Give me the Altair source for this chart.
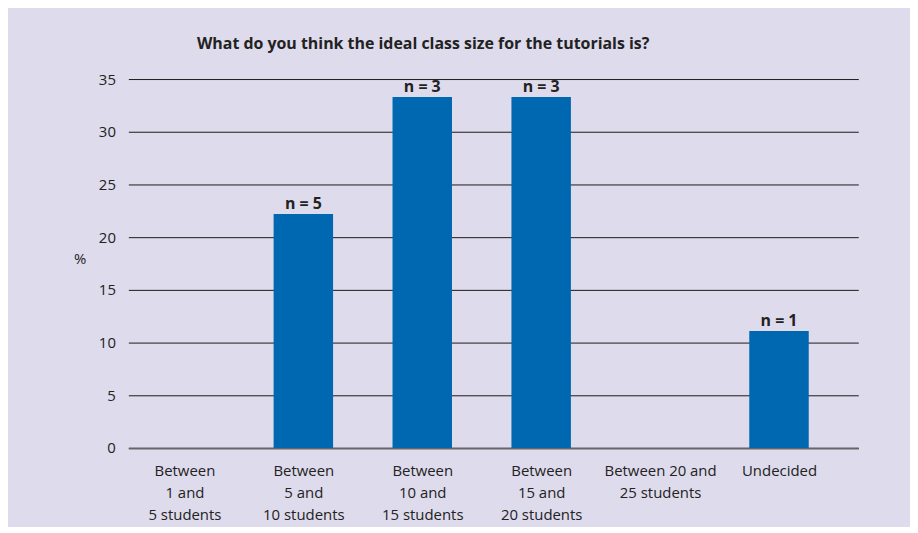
import altair as alt
import pandas as pd

categories = ["Between 1 and 5 students", "Between 5 and 10 students", "Between 10 and 15 students",
              "Between 15 and 20 students", "Between 20 and 25 students", "Undecided"]
label_lines = [["Between", "1 and", "5 students"], ["Between", "5 and", "10 students"],
               ["Between", "10 and", "15 students"], ["Between", "15 and", "20 students"],
               ["Between 20 and", "25 students"], ["Undecided"]]
percent = [0, 22.2, 33.3, 33.3, 0, 11.1]
n_labels = ["", "n = 5", "n = 3", "n = 3", "", "n = 1"]
y_ticks = [0, 5, 10, 15, 20, 25, 30, 35]

positions = list(range(len(categories)))
df = pd.DataFrame({"cat": categories, "pos": positions, "pct": percent, "n": n_labels})
df["left"] = df["pos"] - 0.25
df["right"] = df["pos"] + 0.25
df["base"] = 0
label_expr = "[" + ",".join(repr(l) for l in label_lines) + "][round(datum.value)]"

FONT = "Open Sans"
BG = "#dedbec"
BLUE = "#0067b1"

xscale = alt.Scale(domain=[-0.4717, 5.6667], nice=False, zero=False)
x = alt.X("left:Q", title=None, scale=xscale,
          axis=alt.Axis(values=positions, labelExpr=label_expr, labelAngle=0, labelFont=FONT,
                        labelFontSize=15, labelColor="#222", labelLineHeight=22, labelPadding=23,
                        ticks=False, grid=False, domainColor="#666", domainWidth=2,
                        labelBaseline="middle", labelAlign="center", labelFlush=False,
                        labelOverlap=False))
yscale = alt.Scale(domain=[0, 35], nice=False)
y = alt.Y("pct:Q", title="%", scale=yscale,
          axis=alt.Axis(values=y_ticks, labelFont=FONT, labelFontSize=15, labelColor="#222",
                        labelPadding=13, ticks=False, domain=False, gridColor="#1a1a1a", gridWidth=1,
                        titleAngle=0, titleX=-49, titleY=180, titleAlign="center",
                        titleBaseline="middle", titleFont=FONT, titleFontSize=15,
                        titleFontWeight="normal", titleColor="#222"))

bars = alt.Chart(df).mark_rect(color=BLUE).encode(x=x, x2="right:Q", y=y, y2="base:Q")
text = alt.Chart(df).mark_text(baseline="bottom", dy=-2, font=FONT, fontSize=16,
                               fontWeight="bold", color="#222").encode(
    x=alt.X("pos:Q", scale=xscale), y=alt.Y("pct:Q", scale=yscale), text="n:N")

chart = (bars + text).properties(
    width=734, height=371,
    background=BG,
    autosize=alt.AutoSizeParams(type="none"),
    padding={"left": 121, "top": 70, "right": 52, "bottom": 78},
    title=alt.TitleParams("What do you think the ideal class size for the tutorials is?",
                          anchor="start", frame="group", dx=69, offset=4, baseline="bottom",
                          font=FONT, fontSize=16, fontWeight="bold", color="#222"),
).configure_view(stroke=None)

chart.save("out.html", embed_options={"renderer": "svg", "actions": False})
